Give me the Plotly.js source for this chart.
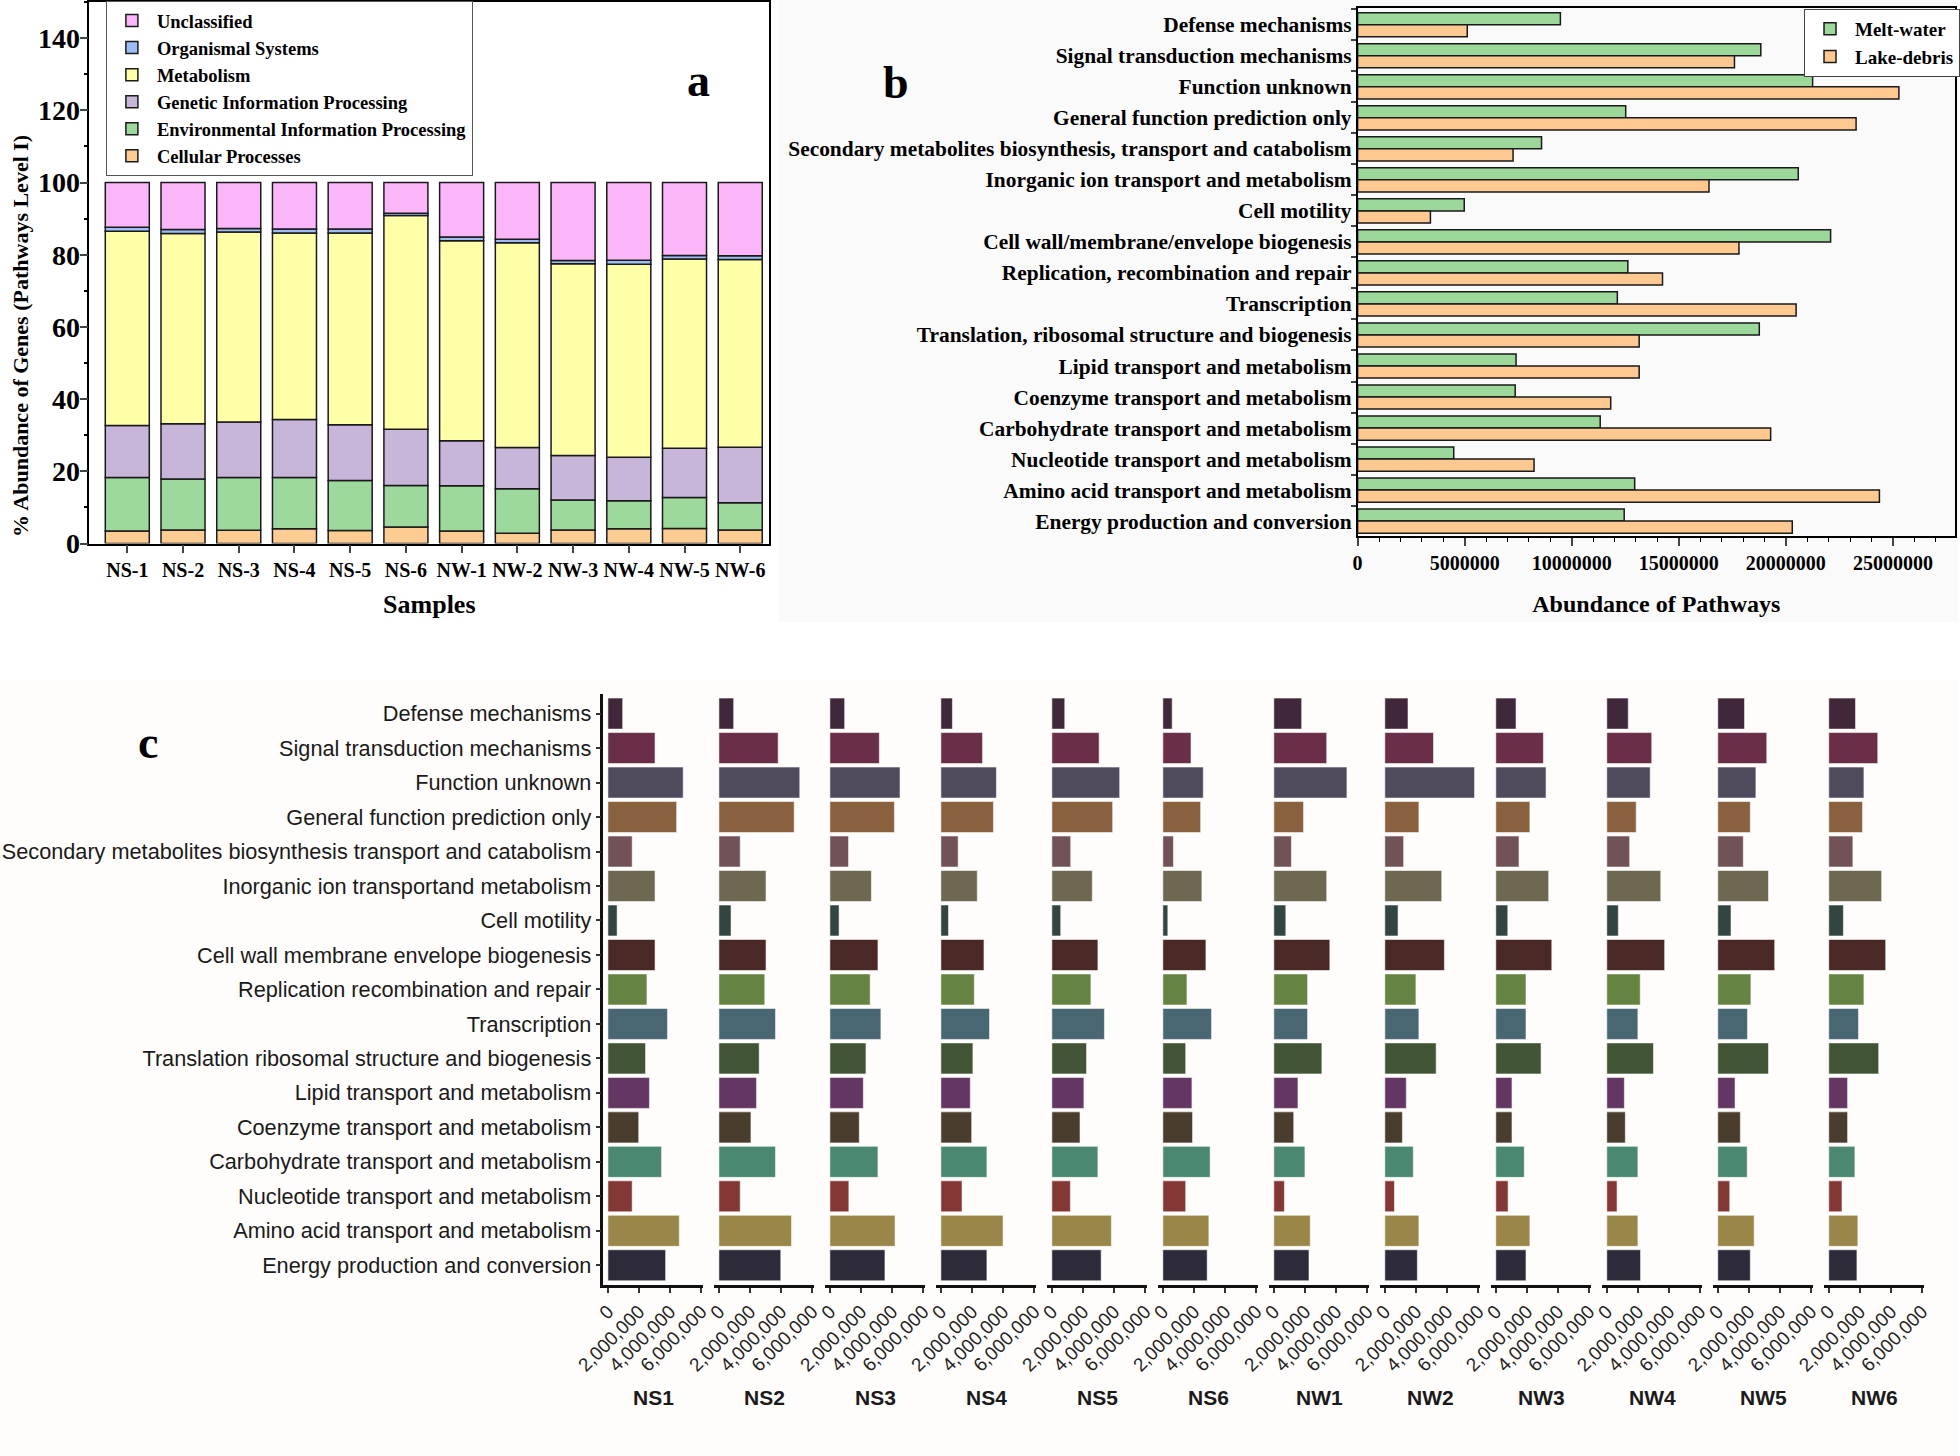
<!DOCTYPE html>
<html><head><meta charset="utf-8">
<script src="https://cdn.plot.ly/plotly-3.0.1.min.js"></script>
<style>html,body{margin:0;padding:0;background:#fff}#chart{width:1960px;height:1456px}</style>
</head><body><div id="chart"></div>
<script>
// ---------- Panel a data (% abundance, KEGG level I) ----------
const samplesA = ['NS-1','NS-2','NS-3','NS-4','NS-5','NS-6','NW-1','NW-2','NW-3','NW-4','NW-5','NW-6'];
const cellularProcesses = [3.5,3.8,3.7,4.1,3.6,4.6,3.5,2.9,3.8,4.1,4.2,3.8];
const environmentalInfo = [14.8,14.1,14.6,14.2,13.9,11.5,12.5,12.3,8.3,7.8,8.6,7.5];
const geneticInfo = [14.4,15.3,15.4,16.1,15.4,15.6,12.5,11.4,12.3,12.0,13.6,15.4];
const metabolism = [53.8,52.7,52.6,51.6,53.1,59.2,55.4,56.7,53.1,53.5,52.4,52.0];
const organismalSystems = [1.1,1.1,1.0,1.1,1.1,0.6,1.0,1.0,0.9,1.1,1.0,1.0];
const unclassified = [12.4,13.0,12.7,12.9,12.9,8.5,15.1,15.7,21.6,21.5,20.2,20.3];

// ---------- Panel b data (COG abundance) ----------
const cogB = ['Defense mechanisms','Signal transduction mechanisms','Function unknown','General function prediction only',
  'Secondary metabolites biosynthesis, transport and catabolism','Inorganic ion transport and metabolism','Cell motility',
  'Cell wall/membrane/envelope biogenesis','Replication, recombination and repair','Transcription',
  'Translation, ribosomal structure and biogenesis','Lipid transport and metabolism','Coenzyme transport and metabolism',
  'Carbohydrate transport and metabolism','Nucleotide transport and metabolism','Amino acid transport and metabolism',
  'Energy production and conversion'];
const meltWater = [9.47e6,18.83e6,21.25e6,12.52e6,8.59e6,20.58e6,4.98e6,22.09e6,12.62e6,12.13e6,18.76e6,7.40e6,7.36e6,11.33e6,4.49e6,12.94e6,12.45e6];
const lakeDebris = [5.12e6,17.6e6,25.28e6,23.28e6,7.26e6,16.41e6,3.40e6,17.81e6,14.24e6,20.48e6,13.15e6,13.15e6,11.82e6,19.29e6,8.24e6,24.37e6,20.30e6];
const ticksB = [0,5000000,10000000,15000000,20000000,25000000];

// ---------- Panel c data (COG abundance per sample, millions) ----------
const cogC = ['Defense mechanisms','Signal transduction mechanisms','Function unknown','General function prediction only',
  'Secondary metabolites biosynthesis transport and catabolism','Inorganic ion transportand metabolism','Cell motility',
  'Cell wall membrane envelope biogenesis','Replication recombination and repair','Transcription',
  'Translation ribosomal structure and biogenesis','Lipid transport and metabolism','Coenzyme transport and metabolism',
  'Carbohydrate transport and metabolism','Nucleotide transport and metabolism','Amino acid transport and metabolism',
  'Energy production and conversion'];
const facetSamples = ['NS1','NS2','NS3','NS4','NS5','NS6','NW1','NW2','NW3','NW4','NW5','NW6'];
const NS1 = [0.95,3.03,4.84,4.42,1.56,3.03,0.59,3.03,2.51,3.83,2.42,2.67,1.98,3.45,1.56,4.59,3.71];
const NS2 = [0.95,3.81,5.20,4.84,1.37,3.03,0.78,3.03,2.95,3.64,2.59,2.42,2.06,3.64,1.37,4.67,3.98];
const NS3 = [0.95,3.18,4.51,4.15,1.20,2.67,0.59,3.09,2.59,3.28,2.32,2.15,1.89,3.09,1.22,4.19,3.54];
const NS4 = [0.74,2.68,3.57,3.38,1.11,2.34,0.49,2.77,2.15,3.13,2.06,1.89,1.98,2.96,1.36,4.00,2.96];
const NS5 = [0.83,3.04,4.36,3.91,1.21,2.60,0.57,2.96,2.51,3.38,2.23,2.06,1.81,2.96,1.19,3.83,3.17];
const NS6 = [0.60,1.81,2.60,2.43,0.68,2.51,0.32,2.77,1.55,3.13,1.47,1.87,1.91,3.04,1.47,2.96,2.85];
const NW1 = [1.79,3.40,4.70,1.91,1.13,3.40,0.77,3.60,2.17,2.17,3.09,1.55,1.28,2.00,0.68,2.34,2.26];
const NW2 = [1.49,3.13,5.77,2.19,1.21,3.66,0.85,3.83,2.00,2.19,3.30,1.38,1.13,1.83,0.62,2.19,2.09];
const NW3 = [1.30,3.06,3.23,2.19,1.49,3.40,0.77,3.60,1.94,1.94,2.91,1.04,1.04,1.83,0.79,2.19,1.94];
const NW4 = [1.38,2.89,2.79,1.89,1.47,3.47,0.74,3.72,2.15,2.00,3.00,1.13,1.19,2.00,0.66,2.00,2.17];
const NW5 = [1.72,3.15,2.45,2.09,1.64,3.26,0.85,3.66,2.13,1.91,3.26,1.11,1.45,1.89,0.77,2.34,2.09];
const NW6 = [1.72,3.15,2.26,2.17,1.55,3.40,0.94,3.66,2.26,1.91,3.21,1.21,1.21,1.68,0.85,1.87,1.81];
const facetValuesMillions = [NS1,NS2,NS3,NS4,NS5,NS6,NW1,NW2,NW3,NW4,NW5,NW6];
const ticksC = [0,2000000,4000000,6000000];
const tickTextC = ['0','2,000,000','4,000,000','6,000,000'];
const cogColors = ['#40283A','#6A2E48','#4F4A5C','#8A613E','#705257','#6E6850','#334541','#4A2826','#658341',
  '#496772','#415535','#643663','#4A3D2E','#4A8870','#843836','#9A8648','#2D2B3A'];

// ---------- geometry helpers ----------
const W = 1960, H = 1456;
const fx = p => p / W;
const fy = p => 1 - p / H;
const serif = 'Liberation Serif, Times New Roman, serif';
const sans = 'Liberation Sans, Arial, sans-serif';

const traces = [];

// Panel a: stacked bars (base computed from the series)
const seriesA = [
  ['Cellular Processes', cellularProcesses, '#FCCC92'],
  ['Environmental Information Processing', environmentalInfo, '#9DD89C'],
  ['Genetic Information Processing', geneticInfo, '#C7B5DA'],
  ['Metabolism', metabolism, '#FFFFA8'],
  ['Organismal Systems', organismalSystems, '#9DBEF5'],
  ['Unclassified', unclassified, '#FAB6F8']
];
let cum = samplesA.map(() => 0);
seriesA.forEach(([name, vals, color]) => {
  traces.push({type:'bar', name:name, x:samplesA, y:vals, base:cum.slice(), width:0.79,
    marker:{color:color, line:{color:'#1a1a1a', width:1.5}}, xaxis:'x', yaxis:'y', legend:'legend',
    hoverinfo:'x+y+name'});
  cum = cum.map((c, i) => c + vals[i]);
});

// Panel b: grouped horizontal bars
traces.push({type:'bar', orientation:'h', name:'Melt-water', y:cogB, x:meltWater, width:0.39, offset:-0.39,
  marker:{color:'#9BD89A', line:{color:'#1a1a1a', width:1.5}}, xaxis:'x2', yaxis:'y2', legend:'legend2'});
traces.push({type:'bar', orientation:'h', name:'Lake-debris', y:cogB, x:lakeDebris, width:0.39, offset:0,
  marker:{color:'#FDC990', line:{color:'#1a1a1a', width:1.5}}, xaxis:'x2', yaxis:'y2', legend:'legend2'});

const bigLetter = {family:serif, size:46, weight:'bold', color:'#000'};
const layout = {
  width:W, height:H, autosize:false,
  margin:{l:0,r:0,t:0,b:0},
  paper_bgcolor:'#ffffff', plot_bgcolor:'rgba(0,0,0,0)',
  barmode:'overlay',
  showlegend:true,
  font:{family:serif, color:'#000'},
  shapes:[
    {type:'rect', xref:'paper', yref:'paper', x0:fx(780), x1:1, y0:fy(622), y1:1, fillcolor:'#FAFAFA', line:{width:0}, layer:'below'},
    {type:'rect', xref:'paper', yref:'paper', x0:0, x1:1, y0:0, y1:fy(680), fillcolor:'#FEFDFB', line:{width:0}, layer:'below'}
  ],
  annotations:[
    {text:'a', xref:'paper', yref:'paper', x:fx(699), y:fy(80), xanchor:'center', yanchor:'middle', showarrow:false, font:bigLetter},
    {text:'b', xref:'paper', yref:'paper', x:fx(897), y:fy(82), xanchor:'center', yanchor:'middle', showarrow:false, font:bigLetter},
    {text:'c', xref:'paper', yref:'paper', x:fx(148), y:fy(742), xanchor:'center', yanchor:'middle', showarrow:false, font:bigLetter},
    {text:'% Abundance of Genes (Pathways Level I)', xref:'paper', yref:'paper', x:fx(20), y:fy(336), xanchor:'center', yanchor:'middle',
      textangle:-90, showarrow:false, font:{family:serif, size:22, weight:'bold', color:'#000'}}
  ],
  legend:{x:fx(106), y:fy(1), xanchor:'left', yanchor:'top', bgcolor:'#ffffff', bordercolor:'#555', borderwidth:1,
    font:{family:serif, size:18.5, weight:'bold', color:'#000'}, traceorder:'reversed', tracegroupgap:0, itemwidth:40},
  legend2:{x:fx(1806), y:fy(9), xanchor:'left', yanchor:'top', bgcolor:'#ffffff', bordercolor:'#444', borderwidth:1,
    font:{family:serif, size:19, weight:'bold', color:'#000'}, traceorder:'normal', tracegroupgap:0, itemwidth:40},
  xaxis:{domain:[fx(89.5), fx(770)], anchor:'y', type:'category', categoryorder:'array', categoryarray:samplesA,
    range:[-0.68, 11.52], showline:true, linecolor:'#000', linewidth:1.5, mirror:true, ticks:'outside', ticklen:8, tickwidth:1.5,
    tickfont:{family:serif, size:20, weight:'bold', color:'#000'}, showgrid:false, zeroline:false,
    title:{text:'Samples', standoff:14, font:{family:serif, size:26, weight:'bold', color:'#000'}}},
  yaxis:{domain:[fy(543.6), fy(2)], anchor:'x', range:[0,150], dtick:20, tick0:0, showline:true, linecolor:'#000', linewidth:1.5,
    mirror:true, ticks:'outside', ticklen:8, tickwidth:1.5, showgrid:false, zeroline:false, ticklabelstandoff:-6,
    minor:{ticks:'outside', dtick:10, ticklen:4, tickwidth:1.5, tickcolor:'#000', showgrid:false},
    tickfont:{family:serif, size:28, weight:'bold', color:'#000'}},
  xaxis2:{domain:[fx(1359), fx(1957)], anchor:'y2', range:[0, 27.9e6], tickvals:ticksB, ticktext:ticksB.map(v => String(v)),
    showline:true, linecolor:'#000', linewidth:1.5, mirror:true, ticks:'outside', ticklen:8, tickwidth:1.5,
    minor:{ticks:'outside', dtick:1e6, ticklen:4, tickwidth:1, tickcolor:'#000', showgrid:false},
    showgrid:false, zeroline:false, tickfont:{family:serif, size:20, weight:'bold', color:'#000'},
    title:{text:'Abundance of Pathways', standoff:22, font:{family:serif, size:24, weight:'bold', color:'#000'}}},
  yaxis2:{domain:[fy(536), fy(8)], anchor:'x2', type:'category', categoryorder:'array', categoryarray:cogB,
    range:[16.48, -0.54], showline:true, linecolor:'#000', linewidth:1.5, mirror:true, ticks:'outside', tickson:'boundaries',
    ticklen:5, tickwidth:1.5, showgrid:false, zeroline:false,
    tickfont:{family:serif, size:21.4, weight:'bold', color:'#000'}},
  yaxis3:{domain:[fy(1285.3), fy(693.6)], anchor:'x3', type:'category', categoryorder:'array', categoryarray:cogC,
    range:[16.58, -0.58], showline:true, linecolor:'#111', linewidth:2.5, ticks:'outside', ticklen:5, tickwidth:2, tickcolor:'#333',
    showgrid:false, zeroline:false, tickfont:{family:sans, size:21.7, color:'#1a1a1a'}}
};

// Panel c: faceted bars, one x axis per sample sharing the category axis
facetSamples.forEach((s, i) => {
  const ax = i + 3;
  const left = 604 + 111.1 * i;
  layout['xaxis' + ax] = {domain:[fx(left), fx(left + 100)], anchor:'y3', range:[-0.292e6, 6.132e6],
    tickvals:ticksC, ticktext:tickTextC, tickangle:-45, showline:true, linecolor:'#111', linewidth:2.5,
    ticks:'outside', ticklen:5, tickwidth:2, tickcolor:'#333', showgrid:false, zeroline:false,
    tickfont:{family:sans, size:19, color:'#222'}};
  traces.push({type:'bar', orientation:'h', y:cogC, x:facetValuesMillions[i].map(v => v * 1e6), width:0.9,
    marker:{color:cogColors, line:{color:'rgba(255,255,255,0.55)', width:1}}, xaxis:'x' + ax, yaxis:'y3',
    showlegend:false, name:s});
  layout.annotations.push({text:s, xref:'paper', yref:'paper', x:fx(left + 50), y:fy(1397), xanchor:'center', yanchor:'middle',
    showarrow:false, font:{family:sans, size:21, weight:'bold', color:'#1a1a1a'}});
});

Plotly.newPlot('chart', traces, layout, {displayModeBar:false, responsive:false});
</script>
</body></html>
